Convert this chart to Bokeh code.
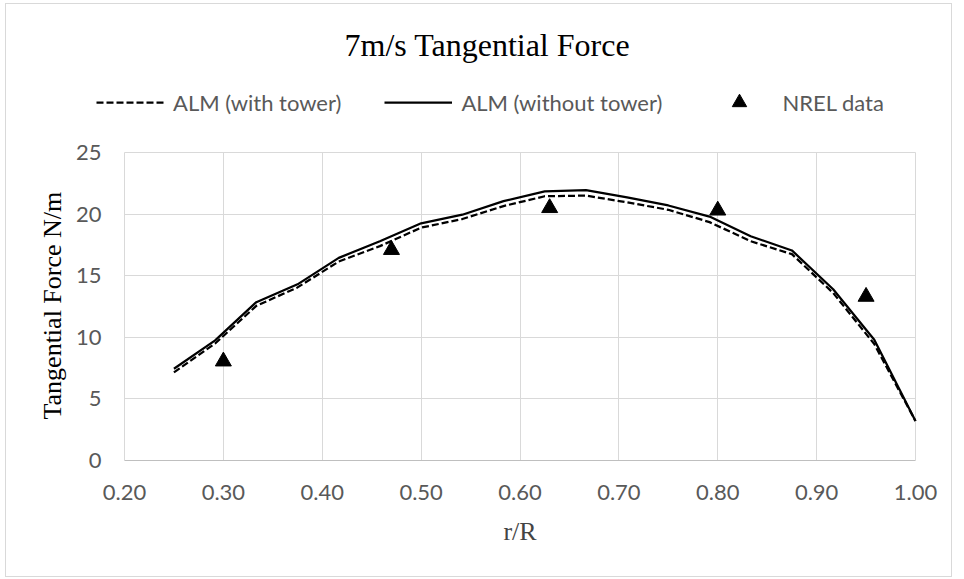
from bokeh.plotting import figure
from bokeh.models import Range1d, FixedTicker, NumeralTickFormatter, Legend, LegendItem, Title
from bokeh.embed import file_html
from bokeh.resources import INLINE

# ---- data ----
r_R = [0.25, 0.2917, 0.3333, 0.375, 0.4167, 0.4583, 0.5, 0.5417, 0.5833, 0.625,
       0.6667, 0.7083, 0.75, 0.7917, 0.8333, 0.875, 0.9167, 0.9583, 1.0]
ft_with_tower = [7.15, 9.5, 12.55, 14.05, 16.15, 17.4, 18.9, 19.6, 20.65, 21.45,
                 21.5, 20.95, 20.35, 19.35, 17.8, 16.75, 13.6, 9.45, 3.2]
ft_without_tower = [7.45, 9.75, 12.85, 14.3, 16.45, 17.8, 19.25, 19.95, 21.05, 21.85,
                    21.95, 21.35, 20.7, 19.8, 18.2, 17.05, 13.9, 9.8, 3.2]
nrel_r = [0.30, 0.47, 0.63, 0.80, 0.95]
nrel_ft = [8.05, 17.1, 20.5, 20.3, 13.3]
x_ticks = [0.2, 0.3, 0.4, 0.5, 0.6, 0.7, 0.8, 0.9, 1.0]
y_ticks = [0, 5, 10, 15, 20, 25]
x_bounds = (0.2, 1.0)
y_bounds = (0, 25)

TICK_FONT = "Lato"
SERIF = "Liberation Serif"
GRAY = "#595959"
GRID = "#d9d9d9"

# frame extends beyond the data area so that the legend row fits inside it
p = figure(width=947, height=574, output_backend="svg", toolbar_location=None,
           x_range=Range1d(0.16966, 1.03034), y_range=Range1d(0, 30.763),
           min_border_left=88, min_border_right=8, min_border_top=77, min_border_bottom=118,
           title="7m/s Tangential Force")
p.margin = (3, 0, 0, 5)
p.styles = {"border": "1px solid #d9d9d9"}

p.title.align = "left"
p.title.offset = 250
p.title.text_font = SERIF
p.title.text_font_size = "32px"
p.title.text_font_style = "normal"
p.title.text_color = "black"
p.title.standoff = 38

p.outline_line_color = None
p.xgrid.grid_line_color = GRID
p.ygrid.grid_line_color = GRID
p.xgrid.ticker = FixedTicker(ticks=x_ticks)
p.ygrid.ticker = FixedTicker(ticks=y_ticks)
p.xgrid.cross_bounds = y_bounds
p.ygrid.cross_bounds = x_bounds

xa = p.xaxis[0]
xa.bounds = x_bounds
xa.ticker = FixedTicker(ticks=x_ticks)
xa.formatter = NumeralTickFormatter(format="0.00")
xa.axis_line_color = "#bfbfbf"
xa.major_tick_line_color = None
xa.minor_tick_line_color = None
xa.major_label_text_font = TICK_FONT
xa.major_label_text_font_size = "22px"
xa.major_label_text_color = GRAY
xa.major_label_standoff = 18
xa.axis_label = "r/R"
xa.axis_label_text_font = SERIF
xa.axis_label_text_font_size = "26px"
xa.axis_label_text_font_style = "normal"
xa.axis_label_standoff = 14

ya = p.yaxis[0]
ya.bounds = y_bounds
ya.ticker = FixedTicker(ticks=y_ticks)
ya.axis_line_color = None
ya.major_tick_line_color = None
ya.minor_tick_line_color = None
ya.major_label_text_font = TICK_FONT
ya.major_label_text_font_size = "22px"
ya.major_label_text_color = GRAY
ya.major_label_standoff = -13

# y axis title, placed in the left panel so that it is centred on the 0-25 span
y_title = Title(text="Tangential Force N/m", align="left", offset=41, standoff=12,
                text_font=SERIF, text_font_size="26px", text_font_style="normal",
                text_color="black")
p.add_layout(y_title, "left")

l_with = p.line(r_R, ft_with_tower, line_color="black", line_width=2.25, line_dash="7 3")
l_without = p.line(r_R, ft_without_tower, line_color="black", line_width=2.25)
s_nrel = p.scatter(nrel_r, nrel_ft, marker="triangle", size=16, fill_color="black", line_color="black")

legend = Legend(items=[LegendItem(label="ALM (with tower)", renderers=[l_with]),
                       LegendItem(label="ALM (without tower)", renderers=[l_without]),
                       LegendItem(label="NREL data", renderers=[s_nrel])],
                location=(2, 340), orientation="horizontal",
                glyph_width=68, glyph_height=36,
                label_standoff=9, padding=0, margin=0, spacing=43,
                background_fill_alpha=0, border_line_color=None,
                label_text_font=TICK_FONT, label_text_font_size="22px",
                label_text_color=GRAY)
p.add_layout(legend, "center")

open("out.html", "w").write(file_html(p, INLINE))
